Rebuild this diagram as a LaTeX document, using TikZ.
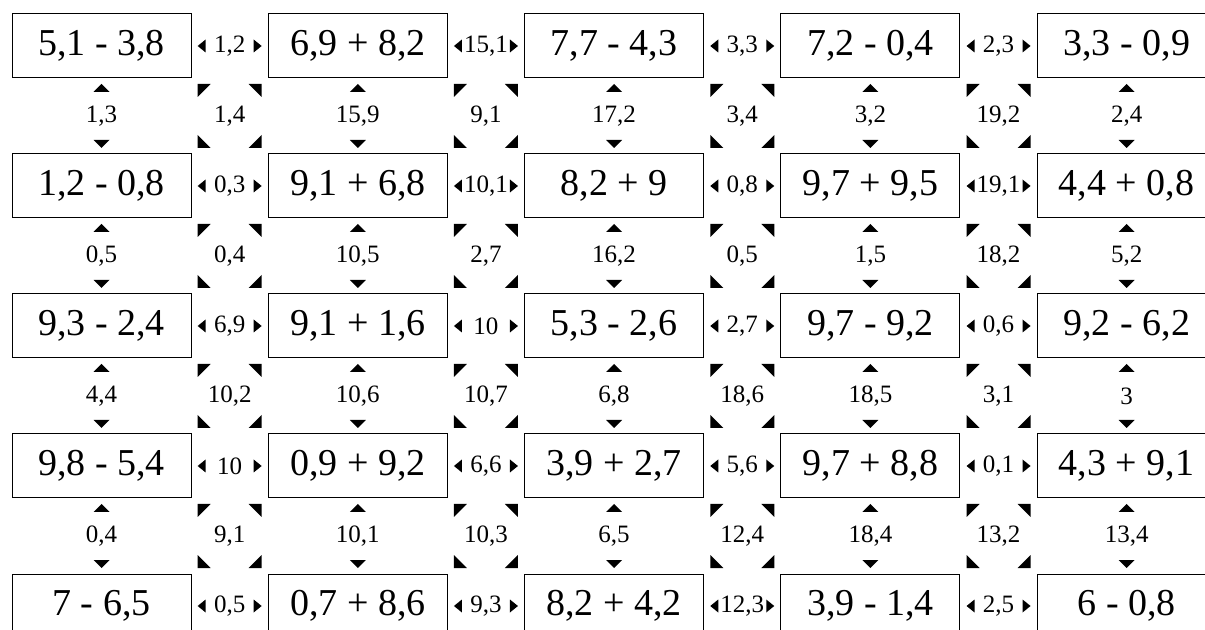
\documentclass[tikz,border=0pt]{standalone}
\usepackage{fontspec}
\setmainfont{Liberation Serif}
\usepackage{tikz}
\usetikzlibrary{positioning, calc}
\tikzset{
  expr/.style={rectangle, draw=black, line width=0.5pt, fill=white,
               minimum width=89.5pt, minimum height=32pt, inner sep=0pt,
               outer sep=0pt, font=\fontsize{19}{19}\selectfont},
  sumlbl/.style={rectangle, minimum width=33pt, minimum height=33pt,
                 inner sep=0pt, font=\fontsize{12.5}{12.5}\selectfont},
  hsum/.style={sumlbl, path picture={
      \fill (path picture bounding box.west) ++(0.5pt,0) -- ++(4pt,3.25pt) -- ++(0,-6.5pt) -- cycle;
      \fill (path picture bounding box.east) ++(-0.5pt,0) -- ++(-4pt,3.25pt) -- ++(0,-6.5pt) -- cycle;}},
  vsum/.style={sumlbl, path picture={
      \fill (path picture bounding box.north) ++(0,-0.5pt) -- ++(4pt,-4pt) -- ++(-8pt,0) -- cycle;
      \fill (path picture bounding box.south) ++(0,0.5pt) -- ++(4pt,4pt) -- ++(-8pt,0) -- cycle;}},
  dsum/.style={sumlbl, path picture={
      \fill (path picture bounding box.north west) ++(0.5pt,-0.5pt) -- ++(6.5pt,0) -- ++(-6.5pt,-6.5pt) -- cycle;
      \fill (path picture bounding box.north east) ++(-0.5pt,-0.5pt) -- ++(-6.5pt,0) -- ++(6.5pt,-6.5pt) -- cycle;
      \fill (path picture bounding box.south west) ++(0.5pt,0.5pt) -- ++(6.5pt,0) -- ++(-6.5pt,6.5pt) -- cycle;
      \fill (path picture bounding box.south east) ++(-0.5pt,0.5pt) -- ++(-6.5pt,0) -- ++(6.5pt,6.5pt) -- cycle;}},
}

\begin{document}
\begin{tikzpicture}[x=0.5pt, y=-0.5pt, node distance={38pt and 38.65pt}]
  \useasboundingbox (0,0) rectangle (1205,630);

  % Row 1
  \node[expr] (e11) at (101.5,46) {5,1 - 3,8};
  \node[expr, right=of e11] (e12) {6,9 + 8,2};
  \node[expr, right=of e12] (e13) {7,7 - 4,3};
  \node[expr, right=of e13] (e14) {7,2 - 0,4};
  \node[expr, right=of e14] (e15) {3,3 - 0,9};

  % Row 2
  \node[expr, below=of e11] (e21) {1,2 - 0,8};
  \node[expr, right=of e21] (e22) {9,1 + 6,8};
  \node[expr, right=of e22] (e23) {8,2 + 9};
  \node[expr, right=of e23] (e24) {9,7 + 9,5};
  \node[expr, right=of e24] (e25) {4,4 + 0,8};

  % Row 3
  \node[expr, below=of e21] (e31) {9,3 - 2,4};
  \node[expr, right=of e31] (e32) {9,1 + 1,6};
  \node[expr, right=of e32] (e33) {5,3 - 2,6};
  \node[expr, right=of e33] (e34) {9,7 - 9,2};
  \node[expr, right=of e34] (e35) {9,2 - 6,2};

  % Row 4
  \node[expr, below=of e31] (e41) {9,8 - 5,4};
  \node[expr, right=of e41] (e42) {0,9 + 9,2};
  \node[expr, right=of e42] (e43) {3,9 + 2,7};
  \node[expr, right=of e43] (e44) {9,7 + 8,8};
  \node[expr, right=of e44] (e45) {4,3 + 9,1};

  % Row 5
  \node[expr, below=of e41] (e51) {7 - 6,5};
  \node[expr, right=of e51] (e52) {0,7 + 8,6};
  \node[expr, right=of e52] (e53) {8,2 + 4,2};
  \node[expr, right=of e53] (e54) {3,9 - 1,4};
  \node[expr, right=of e54] (e55) {6 - 0,8};

  % Sums between neighbours in a row
  \node[hsum] (h11) at ($(e11)!0.5!(e12)$) {1,2};
  \node[hsum] (h12) at ($(e12)!0.5!(e13)$) {15,1};
  \node[hsum] (h13) at ($(e13)!0.5!(e14)$) {3,3};
  \node[hsum] (h14) at ($(e14)!0.5!(e15)$) {2,3};
  \node[hsum] (h21) at ($(e21)!0.5!(e22)$) {0,3};
  \node[hsum] (h22) at ($(e22)!0.5!(e23)$) {10,1};
  \node[hsum] (h23) at ($(e23)!0.5!(e24)$) {0,8};
  \node[hsum] (h24) at ($(e24)!0.5!(e25)$) {19,1};
  \node[hsum] (h31) at ($(e31)!0.5!(e32)$) {6,9};
  \node[hsum] (h32) at ($(e32)!0.5!(e33)$) {10};
  \node[hsum] (h33) at ($(e33)!0.5!(e34)$) {2,7};
  \node[hsum] (h34) at ($(e34)!0.5!(e35)$) {0,6};
  \node[hsum] (h41) at ($(e41)!0.5!(e42)$) {10};
  \node[hsum] (h42) at ($(e42)!0.5!(e43)$) {6,6};
  \node[hsum] (h43) at ($(e43)!0.5!(e44)$) {5,6};
  \node[hsum] (h44) at ($(e44)!0.5!(e45)$) {0,1};
  \node[hsum] (h51) at ($(e51)!0.5!(e52)$) {0,5};
  \node[hsum] (h52) at ($(e52)!0.5!(e53)$) {9,3};
  \node[hsum] (h53) at ($(e53)!0.5!(e54)$) {12,3};
  \node[hsum] (h54) at ($(e54)!0.5!(e55)$) {2,5};

  % Sums between neighbours in a column
  \node[vsum] (v11) at ($(e11)!0.5!(e21)$) {1,3};
  \node[vsum] (v12) at ($(e12)!0.5!(e22)$) {15,9};
  \node[vsum] (v13) at ($(e13)!0.5!(e23)$) {17,2};
  \node[vsum] (v14) at ($(e14)!0.5!(e24)$) {3,2};
  \node[vsum] (v15) at ($(e15)!0.5!(e25)$) {2,4};
  \node[vsum] (v21) at ($(e21)!0.5!(e31)$) {0,5};
  \node[vsum] (v22) at ($(e22)!0.5!(e32)$) {10,5};
  \node[vsum] (v23) at ($(e23)!0.5!(e33)$) {16,2};
  \node[vsum] (v24) at ($(e24)!0.5!(e34)$) {1,5};
  \node[vsum] (v25) at ($(e25)!0.5!(e35)$) {5,2};
  \node[vsum] (v31) at ($(e31)!0.5!(e41)$) {4,4};
  \node[vsum] (v32) at ($(e32)!0.5!(e42)$) {10,6};
  \node[vsum] (v33) at ($(e33)!0.5!(e43)$) {6,8};
  \node[vsum] (v34) at ($(e34)!0.5!(e44)$) {18,5};
  \node[vsum] (v35) at ($(e35)!0.5!(e45)$) {3};
  \node[vsum] (v41) at ($(e41)!0.5!(e51)$) {0,4};
  \node[vsum] (v42) at ($(e42)!0.5!(e52)$) {10,1};
  \node[vsum] (v43) at ($(e43)!0.5!(e53)$) {6,5};
  \node[vsum] (v44) at ($(e44)!0.5!(e54)$) {18,4};
  \node[vsum] (v45) at ($(e45)!0.5!(e55)$) {13,4};

  % Sums across the corners
  \node[dsum] (d11) at ($(e11)!0.5!(e22)$) {1,4};
  \node[dsum] (d12) at ($(e12)!0.5!(e23)$) {9,1};
  \node[dsum] (d13) at ($(e13)!0.5!(e24)$) {3,4};
  \node[dsum] (d14) at ($(e14)!0.5!(e25)$) {19,2};
  \node[dsum] (d21) at ($(e21)!0.5!(e32)$) {0,4};
  \node[dsum] (d22) at ($(e22)!0.5!(e33)$) {2,7};
  \node[dsum] (d23) at ($(e23)!0.5!(e34)$) {0,5};
  \node[dsum] (d24) at ($(e24)!0.5!(e35)$) {18,2};
  \node[dsum] (d31) at ($(e31)!0.5!(e42)$) {10,2};
  \node[dsum] (d32) at ($(e32)!0.5!(e43)$) {10,7};
  \node[dsum] (d33) at ($(e33)!0.5!(e44)$) {18,6};
  \node[dsum] (d34) at ($(e34)!0.5!(e45)$) {3,1};
  \node[dsum] (d41) at ($(e41)!0.5!(e52)$) {9,1};
  \node[dsum] (d42) at ($(e42)!0.5!(e53)$) {10,3};
  \node[dsum] (d43) at ($(e43)!0.5!(e54)$) {12,4};
  \node[dsum] (d44) at ($(e44)!0.5!(e55)$) {13,2};
\end{tikzpicture}
\end{document}
